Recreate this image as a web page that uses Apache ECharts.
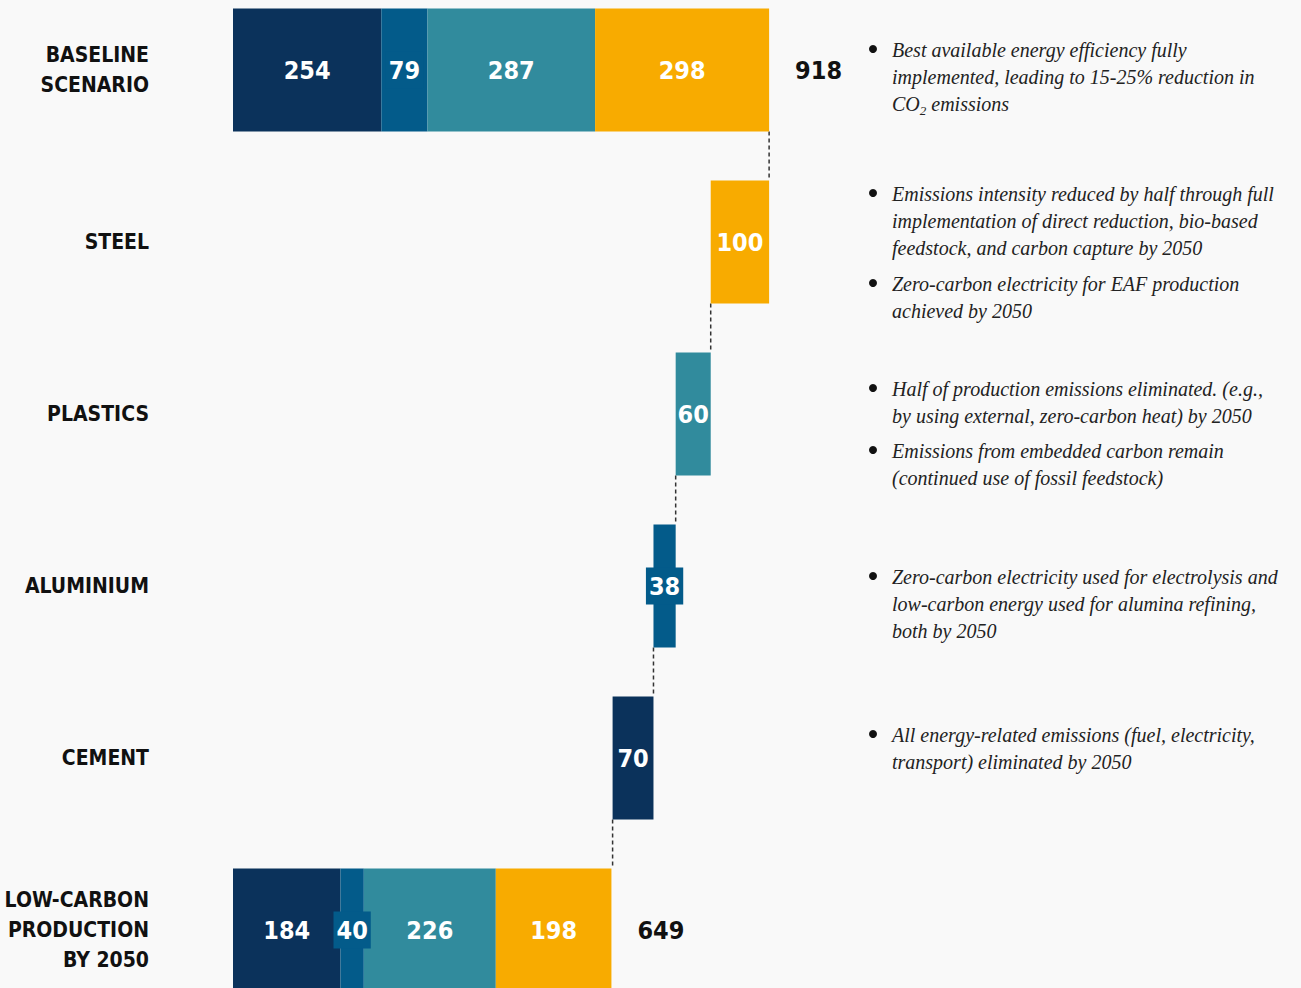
<!DOCTYPE html>
<html>
<head>
<meta charset="utf-8">
<script src="https://cdn.jsdelivr.net/npm/echarts@6/dist/echarts.min.js"></script>
<style>
  html, body { margin: 0; padding: 0; background: #f9f9f9; }
  #main { width: 1301px; height: 988px; }
</style>
</head>
<body>
<div id="main"></div>
<script>
// rows top to bottom
var categories = ["BASELINE\nSCENARIO", "STEEL", "PLASTICS", "ALUMINIUM", "CEMENT", "LOW-CARBON\nPRODUCTION\nBY 2050"];
// invisible offset of each floating bar
var base      = [0, 818, 758, 720, 650, 0];
var cement    = [254, "-", "-", "-", 70, 184];
var aluminium = [79, "-", "-", 38, "-", 40];
var plastics  = [287, "-", 60, "-", "-", 226];
var steel     = [298, 100, "-", "-", "-", 198];
var totals    = [918, "-", "-", "-", "-", 649];

var notes = [
  { row: 0, lines: ["Best available energy efficiency fully", "implemented, leading to 15-25% reduction in", "CO{sub|2} emissions"], y: 50 },
  { row: 1, lines: ["Emissions intensity reduced by half through full", "implementation of direct reduction, bio-based", "feedstock, and carbon capture by 2050"], y: 194 },
  { row: 1, lines: ["Zero-carbon electricity for EAF production", "achieved by 2050"], y: 284 },
  { row: 2, lines: ["Half of production emissions eliminated. (e.g.,", "by using external, zero-carbon heat) by 2050"], y: 389 },
  { row: 2, lines: ["Emissions from embedded carbon remain", "(continued use of fossil feedstock)"], y: 451 },
  { row: 3, lines: ["Zero-carbon electricity used for electrolysis and", "low-carbon energy used for alumina refining,", "both by 2050"], y: 577 },
  { row: 4, lines: ["All energy-related emissions (fuel, electricity,", "transport) eliminated by 2050"], y: 735 }
];

var COLORS = { cement: "#0b325b", aluminium: "#035b8a", plastics: "#318b9d", steel: "#f8ab00" };
var BAR_W = 123;
var NUM_FONT = "'Liberation Sans Narrow', 'DejaVu Sans Condensed', 'Roboto', sans-serif";
var NOTE_FONT = "'Liberation Serif', 'DejaVu Serif', serif";

function rowSum(i) {
  return [cement, aluminium, plastics, steel].reduce(function (s, arr) {
    return s + (arr[i] === "-" ? 0 : arr[i]);
  }, 0);
}

// dashed connector x positions (between row i and i+1)
var connectors = [];
for (var i = 0; i < categories.length - 1; i++) {
  connectors.push([i === 0 ? rowSum(0) : base[i], i]);
}

function part(name, data, color, boxed) {
  var label = {
    show: true,
    position: "inside",
    color: "#fff",
    fontFamily: NUM_FONT,
    fontWeight: "bold",
    fontSize: 25,
    lineHeight: 27
  };
  if (boxed) {
    // narrow bars: label sits on a small box wider than the bar
    label.backgroundColor = color;
    label.padding = [5, 3];
  }
  return {
    name: name,
    type: "bar",
    stack: "w",
    barWidth: BAR_W,
    data: data,
    itemStyle: { color: color },
    label: label
  };
}

var graphics = [];
notes.forEach(function (n) {
  graphics.push({
    type: "circle",
    shape: { cx: 873, cy: n.y - 1, r: 4 },
    style: { fill: "#111" }
  });
  graphics.push({
    type: "text",
    x: 892,
    y: n.y - 14,
    style: {
      text: n.lines.join("\n"),
      font: "italic 20px " + NOTE_FONT,
      fill: "#222",
      lineHeight: 27,
      verticalAlign: "top",
      rich: {
        sub: { fontSize: 13, fontStyle: "italic", fontFamily: NOTE_FONT, verticalAlign: "bottom", padding: [12, 0, 0, 0], fill: "#222" }
      }
    }
  });
});

var chart = echarts.init(document.getElementById("main"), null, { renderer: "svg" });
chart.setOption({
  backgroundColor: "#f9f9f9",
  animation: false,
  grid: { left: 233, top: -16, height: 1032, width: 584, containLabel: false, outerBoundsMode: "none" },
  xAxis: {
    type: "value",
    min: 0,
    max: 1000,
    show: false
  },
  yAxis: {
    type: "category",
    inverse: true,
    data: categories,
    axisLine: { show: false },
    axisTick: { show: false },
    splitLine: { show: false },
    axisLabel: {
      margin: 84,
      align: "right",
      color: "#111",
      fontFamily: NUM_FONT,
      fontWeight: "bold",
      fontSize: 21,
      lineHeight: 30
    }
  },
  series: [
    {
      name: "base",
      type: "bar",
      stack: "w",
      barWidth: BAR_W,
      data: base,
      itemStyle: { color: "transparent" },
      silent: true
    },
    part("Cement", cement, COLORS.cement, false),
    part("Aluminium", aluminium, COLORS.aluminium, true),
    part("Plastics", plastics, COLORS.plastics, false),
    part("Steel", steel, COLORS.steel, false),
    {
      name: "total",
      type: "bar",
      stack: "w",
      barWidth: BAR_W,
      data: totals.map(function (t) { return t === "-" ? "-" : 0; }),
      itemStyle: { color: "transparent" },
      label: {
        show: true,
        position: "right",
        distance: 26,
        color: "#111",
        fontFamily: NUM_FONT,
        fontWeight: "bold",
        fontSize: 25,
        formatter: function (p) { return String(totals[p.dataIndex]); }
      }
    },
    {
      name: "connector",
      type: "custom",
      data: connectors,
      z: 1,
      renderItem: function (params, api) {
        var x = api.value(0), r = api.value(1);
        var a = api.coord([x, r]);
        var b = api.coord([x, r + 1]);
        var half = BAR_W / 2;
        return {
          type: "line",
          shape: { x1: a[0], y1: a[1] + half, x2: b[0], y2: b[1] - half },
          style: { stroke: "#333", lineWidth: 1.5, lineDash: [4, 3] }
        };
      }
    }
  ],
  graphic: graphics
});
</script>
</body>
</html>
